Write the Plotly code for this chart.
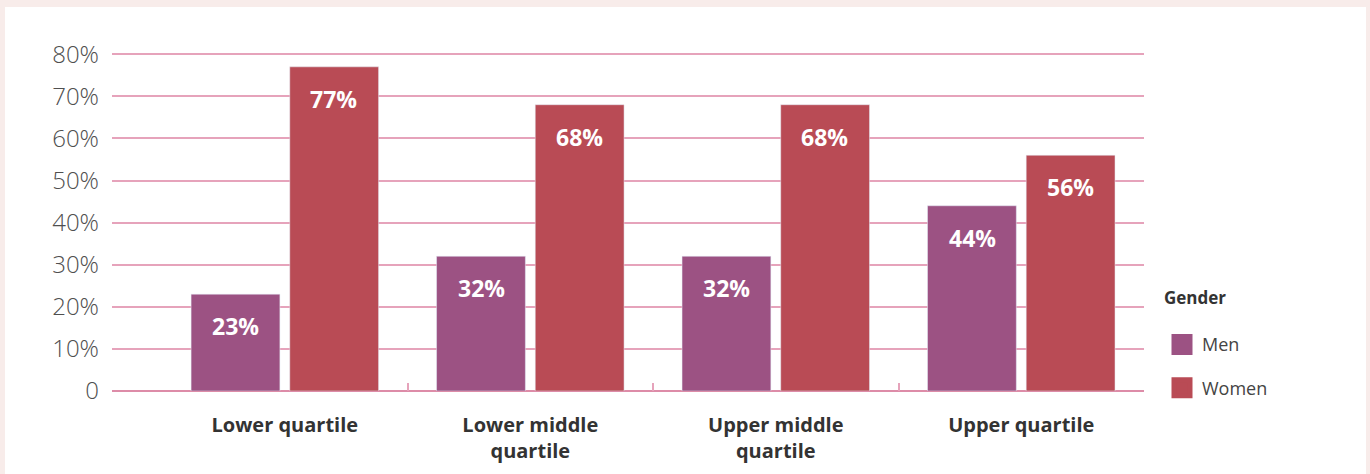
import plotly.graph_objects as go

categories = ["Lower quartile", "Lower middle<br>quartile", "Upper middle<br>quartile", "Upper quartile"]
men = [23, 32, 32, 44]
women = [77, 68, 68, 56]
y_ticks = [0, 10, 20, 30, 40, 50, 60, 70, 80]
y_tick_labels = ["0", "10%", "20%", "30%", "40%", "50%", "60%", "70%", "80%"]

MEN_C = "#9c5283"
WOMEN_C = "#b94b55"
GRID_C = "#e6a3bb"
FONT = "Open Sans"

W, H = 1370, 474
ML, MR, MT, MB = 112, 226, 50, 83
PW, PH = W - ML - MR, H - MT - MB

def px_x(p):
    return (p - ML) / PW

def px_y(p):
    return (H - MB - p) / PH

fig = go.Figure()
fig.add_trace(go.Bar(name="Men", x=list(range(4)), y=men, marker_color=MEN_C, showlegend=False))
fig.add_trace(go.Bar(name="Women", x=list(range(4)), y=women, marker_color=WOMEN_C, showlegend=False))

# legend entries with larger square swatches
fig.add_trace(go.Scatter(name="Men", x=[None], y=[None], mode="markers", legendgroup="m",
                         marker=dict(symbol="square", size=24, color=MEN_C,
                                     line=dict(color=MEN_C, width=5))))
fig.add_trace(go.Scatter(name="Women", x=[None], y=[None], mode="markers", legendgroup="w",
                         marker=dict(symbol="square", size=24, color=WOMEN_C,
                                     line=dict(color=WOMEN_C, width=5))))

# boundary ticks between categories
fig.add_trace(go.Scatter(x=[0.5, 1.5, 2.5], y=[0, 0, 0], mode="markers", xaxis="x2",
                         marker=dict(size=0.1, color="rgba(0,0,0,0)"), showlegend=False, hoverinfo="skip"))

annotations = []
for vals, off in ((men, -0.2), (women, 0.2)):
    for i, v in enumerate(vals):
        annotations.append(dict(x=i + off, y=v, xref="x", yref="y", text=f"{v}%",
                                showarrow=False, yshift=-32,
                                font=dict(family=FONT, size=23, color="white", weight="bold")))

xrange = [-0.5 - 50 / 245, 3.5]
fig.update_layout(
    width=W, height=H,
    margin=dict(l=ML, r=MR, t=MT, b=MB, pad=0, autoexpand=False),
    paper_bgcolor="#f8ecea",
    plot_bgcolor="rgba(0,0,0,0)",
    barmode="group", bargap=0.196, bargroupgap=0.1,
    font=dict(family=FONT, color="#444"),
    xaxis=dict(range=xrange, tickmode="array", tickvals=list(range(4)), ticktext=categories,
               showgrid=False, zeroline=False, showline=False, ticks="", automargin=False,
               tickfont=dict(family=FONT, size=20, color="#333", weight="bold"),
               ticklabelstandoff=20),
    xaxis2=dict(range=xrange, overlaying="x", anchor="y", side="bottom", automargin=False,
                tickmode="array", tickvals=[0.5, 1.5, 2.5], showticklabels=False,
                ticks="inside", ticklen=8, tickwidth=1.5, tickcolor=GRID_C,
                showgrid=False, zeroline=False, showline=False),
    yaxis=dict(range=[0, 81], tickmode="array", tickvals=y_ticks, ticktext=y_tick_labels,
               showgrid=True, gridcolor=GRID_C, gridwidth=1.5, automargin=False,
               zeroline=True, zerolinecolor="#dd8ca8", zerolinewidth=2,
               ticks="", tickfont=dict(family=FONT, size=24, color="#4f4f4f", weight=300),
               ticklabelstandoff=12),
    legend=dict(x=px_x(1162), y=px_y(282), xanchor="left", yanchor="top",
                title=dict(text="Gender<br> ", font=dict(family=FONT, size=17, color="#333", weight="bold")),
                font=dict(family=FONT, size=18, color="#444"),
                tracegroupgap=17, itemsizing="trace", bgcolor="rgba(0,0,0,0)"),
    annotations=annotations,
    shapes=[dict(type="rect", xref="paper", yref="paper", layer="below",
                 x0=px_x(5), x1=px_x(1366), y0=px_y(H + 20), y1=px_y(7),
                 fillcolor="white", line=dict(width=0))],
    hovermode=False,
)

fig.write_html("out.html", config={"displayModeBar": False},
               post_script="document.body.style.margin='0';")
